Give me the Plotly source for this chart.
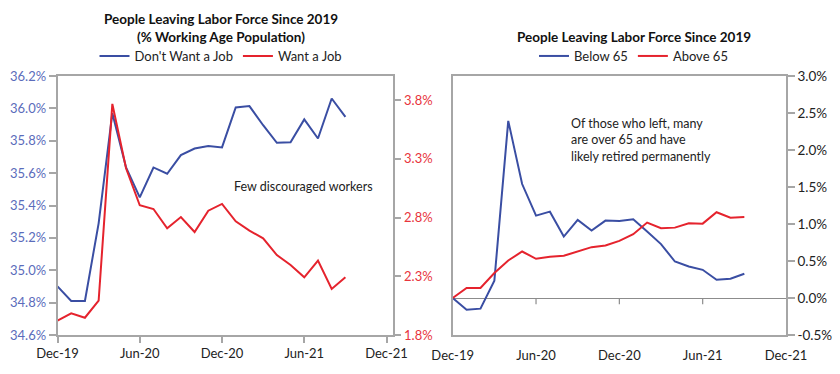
import plotly.graph_objects as go

# ---- data ----
months = ["Dec-19", "Jan-20", "Feb-20", "Mar-20", "Apr-20", "May-20", "Jun-20", "Jul-20",
          "Aug-20", "Sep-20", "Oct-20", "Nov-20", "Dec-20", "Jan-21", "Feb-21", "Mar-21",
          "Apr-21", "May-21", "Jun-21", "Jul-21", "Aug-21", "Sep-21"]
dont_want_job = [34.90, 34.81, 34.81, 35.29, 35.97, 35.635, 35.45, 35.635, 35.596, 35.711, 35.752,
                 35.767, 35.759, 36.006, 36.014, 35.896, 35.787, 35.79, 35.932, 35.814, 36.061, 35.948]
want_job = [1.922, 1.985, 1.947, 2.092, 3.768, 3.22, 2.905, 2.873, 2.709, 2.805, 2.677,
            2.859, 2.916, 2.768, 2.689, 2.624, 2.481, 2.396, 2.291, 2.433, 2.192, 2.291]
below_65 = [0.0, -0.158, -0.144, 0.233, 2.394, 1.54, 1.113, 1.167, 0.83, 1.055, 0.911,
            1.046, 1.042, 1.065, 0.898, 0.728, 0.493, 0.426, 0.381, 0.247, 0.26, 0.327]
above_65 = [0.0, 0.135, 0.135, 0.337, 0.507, 0.628, 0.53, 0.557, 0.57, 0.628, 0.687,
            0.709, 0.772, 0.862, 1.019, 0.943, 0.951, 1.01, 1.005, 1.159, 1.086, 1.096]
tick_idx = [0, 6, 12, 18, 24]
tick_labels = ["Dec-19", "Jun-20", "Dec-20", "Jun-21", "Dec-21"]
left_ticks = [34.6, 34.8, 35.0, 35.2, 35.4, 35.6, 35.8, 36.0, 36.2]
red_ticks = [1.8, 2.3, 2.8, 3.3, 3.8]
right_ticks = [-0.5, 0.0, 0.5, 1.0, 1.5, 2.0, 2.5, 3.0]

x = list(range(len(months)))

BLUE = "#3a4ea3"
RED = "#e5232d"
GRAY = "#a6a6a6"
FONT = "Lato"
TXT = "#222222"

fig = go.Figure()
fig.add_trace(go.Scatter(x=x, y=dont_want_job, mode="lines", name="Don't Want a Job",
                         line=dict(color=BLUE, width=2), xaxis="x", yaxis="y", legend="legend",
                         customdata=months))
fig.add_trace(go.Scatter(x=x, y=want_job, mode="lines", name="Want a Job",
                         line=dict(color=RED, width=2), xaxis="x", yaxis="y2", legend="legend",
                         customdata=months))
fig.add_trace(go.Scatter(x=x, y=below_65, mode="lines", name="Below 65",
                         line=dict(color=BLUE, width=2), xaxis="x2", yaxis="y3", legend="legend2",
                         customdata=months))
fig.add_trace(go.Scatter(x=x, y=above_65, mode="lines", name="Above 65",
                         line=dict(color=RED, width=2), xaxis="x2", yaxis="y3", legend="legend2",
                         customdata=months))

ydom = [1 - 335 / 374, 1 - 76 / 374]
xdom1 = [57.5 / 840, 392.7 / 840]
xdom2 = [452.7 / 840, 786 / 840]

axis_font = dict(family=FONT, size=13, color=TXT)

fig.update_layout(
    template="none",
    width=840, height=374, autosize=False,
    margin=dict(l=0, r=0, t=0, b=0, pad=0, autoexpand=False),
    paper_bgcolor="white", plot_bgcolor="white",
    font=dict(family=FONT, size=13, color=TXT),
    xaxis=dict(domain=xdom1, anchor="y", range=[0, 24.45], tickvals=tick_idx, ticktext=tick_labels,
               showgrid=False, zeroline=False, showline=True, linecolor=GRAY, linewidth=1.5,
               mirror=True, ticks="outside", ticklen=6, tickcolor=GRAY, tickwidth=1.5,
               tickfont=axis_font, automargin=False),
    yaxis=dict(domain=ydom, anchor="x", range=[34.6, 36.2], tickvals=left_ticks,
               ticktext=[f"{v:.1f}%" for v in left_ticks], showgrid=False, zeroline=False,
               showline=True, linecolor=GRAY, linewidth=1.5, ticks="outside", ticklen=7,
               tickcolor=GRAY, tickwidth=1.5, automargin=False,
               tickfont=dict(family=FONT, size=13, color="#5b6cbb")),
    yaxis2=dict(overlaying="y", side="right", anchor="x", range=[1.8, 4.006], tickvals=red_ticks,
                ticktext=[f"{v:.1f}%" for v in red_ticks], showgrid=False, zeroline=False,
                showline=True, linecolor=GRAY, linewidth=1.5, ticks="outside", ticklen=7,
                tickcolor=GRAY, tickwidth=1.5, automargin=False,
                tickfont=dict(family=FONT, size=13, color="#e8343d")),
    xaxis2=dict(domain=xdom2, anchor="y3", range=[0, 24], tickvals=tick_idx, ticktext=tick_labels,
                showgrid=False, zeroline=False, showline=True, linecolor=GRAY, linewidth=1.5,
                mirror=True, ticks="", tickfont=axis_font, ticklabelstandoff=8, automargin=False),
    yaxis3=dict(domain=ydom, anchor="x2", side="right", range=[-0.5, 3.0], tickvals=right_ticks,
                ticktext=[f"{v:.1f}%" for v in right_ticks], showgrid=False, zeroline=True,
                zerolinecolor="#8c8c8c", zerolinewidth=1.2, showline=True, linecolor=GRAY,
                linewidth=1.5, mirror=True, ticks="outside", ticklen=7, tickcolor=GRAY,
                tickwidth=1.5, tickfont=dict(family=FONT, size=13.5, color=TXT), automargin=False),
    legend=dict(orientation="h", x=221 / 840, xanchor="center", y=1 - 56 / 374, yanchor="middle",
                font=dict(family=FONT, size=13, color=TXT), bgcolor="rgba(0,0,0,0)",
                itemwidth=30),
    legend2=dict(orientation="h", x=633.5 / 840, xanchor="center", y=1 - 56 / 374, yanchor="middle",
                 font=dict(family=FONT, size=13, color=TXT), bgcolor="rgba(0,0,0,0)",
                 itemwidth=30),
    showlegend=True,
)

# tick marks hanging from the zero line on the right chart
for t in tick_idx[1:-1]:
    fig.add_shape(type="line", xref="x2", yref="y3", x0=t, x1=t, y0=0, y1=-0.085,
                  line=dict(color="#8c8c8c", width=1.2))

annotations = [
    dict(text="<b>People Leaving Labor Force Since 2019</b>", x=221 / 840, y=1 - 19 / 374),
    dict(text="<b>(% Working Age Population)</b>", x=221 / 840, y=1 - 37 / 374),
    dict(text="<b>People Leaving Labor Force Since 2019</b>", x=633.5 / 840, y=1 - 37 / 374),
]
for a in annotations:
    fig.add_annotation(xref="paper", yref="paper", xanchor="center", yanchor="middle",
                       showarrow=False, font=dict(family=FONT, size=13.5, color="#111111"), **a)

fig.add_annotation(xref="paper", yref="paper", x=303 / 840, y=1 - 186 / 374, xanchor="center",
                   yanchor="middle", showarrow=False, text="Few discouraged workers",
                   font=dict(family=FONT, size=12.5, color=TXT))
fig.add_annotation(xref="paper", yref="paper", x=569 / 840, y=1 - 140 / 374, xanchor="left",
                   yanchor="middle", align="left", showarrow=False,
                   text="Of those who left, many<br>are over 65 and have<br>likely retired permanently",
                   font=dict(family=FONT, size=12.5, color=TXT))

fig.write_html("out.html", config={"displayModeBar": False},
               post_script="document.body.style.margin='0';document.body.style.padding='0';")
